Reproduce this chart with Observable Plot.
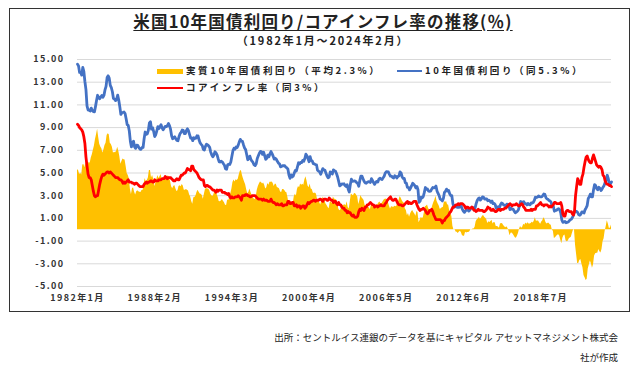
<!DOCTYPE html>
<html><head><meta charset="utf-8">
<script src="https://cdn.jsdelivr.net/npm/d3@7"></script>
<script src="https://cdn.jsdelivr.net/npm/@observablehq/plot@0.6"></script>
<style>
body{margin:0;background:#fff;}
#wrap{position:relative;width:640px;height:371px;overflow:hidden;font-family:"Noto Sans CJK JP",sans-serif;color:#222;}
#chart{position:absolute;left:0;top:0;}
#chart svg text{letter-spacing:1.4px;}
#frame{position:absolute;left:9px;top:8px;width:621px;height:304px;border:1.5px solid #333;box-sizing:border-box;pointer-events:none;}
.t{position:absolute;white-space:nowrap;line-height:1;}
#title{left:0;width:646px;text-align:center;top:13px;font-size:16.5px;font-weight:700;text-decoration:underline;text-underline-offset:2px;letter-spacing:1.2px;}
#sub{left:0;width:646px;text-align:center;top:35px;font-size:11px;font-weight:700;letter-spacing:1.8px;}
.lg{font-size:9.5px;font-weight:700;letter-spacing:2.6px;}
.sw{position:absolute;}
.src{font-size:9.5px;right:22px;}
</style></head>
<body>
<div id="wrap">
<div id="chart"></div>
<div id="frame"></div>
<div class="t" id="title"></div>
<div class="t" id="sub"></div>
<div class="sw" style="left:157px;top:69px;width:26px;height:5px;background:#FFC000"></div>
<div class="t lg" id="lg1" style="left:186px;top:66px"></div>
<div class="sw" style="left:397px;top:70px;width:25px;height:2px;background:#4472C4"></div>
<div class="t lg" id="lg2" style="left:425px;top:66px"></div>
<div class="sw" style="left:157px;top:87px;width:26px;height:2px;background:#FF0000"></div>
<div class="t lg" id="lg3" style="left:186px;top:83px"></div>
<div class="t src" id="src1" style="top:333px"></div>
<div class="t src" id="src2" style="top:353px"></div>
</div>
<script>
const titleText = "米国10年国債利回り/コアインフレ率の推移(％)";
const subtitleText = "（1982年1月～2024年2月）";
const legendLabels = ["実質10年国債利回り（平均2.3%）", "10年国債利回り（同5.3%）", "コアインフレ率（同3%）"];
const sourceLines = ["出所：セントルイス連銀のデータを基にキャピタル アセットマネジメント株式会", "社が作成"];
const xTickIdx = [0, 73, 146, 219, 292, 365, 438];
const xTickLabels = ["1982年1月","1988年2月","1994年3月","2000年4月","2006年5月","2012年6月","2018年7月"];
const yTicks = [-5,-3,-1,1,3,5,7,9,11,13,15];

// 10年国債利回り (monthly, 1982-01 .. 2024-02)
const y10 = [
14.59,14.43,13.86,13.87,13.62,14.30,13.95,13.06,12.34,10.91,10.55,10.54,
10.46,10.72,10.51,10.40,10.38,10.85,11.38,11.85,11.65,11.54,11.69,11.83,
11.67,11.84,12.32,12.63,13.41,13.56,13.36,12.72,12.52,12.16,11.57,11.50,
11.38,11.51,11.86,11.43,10.85,10.16,10.31,10.33,10.37,10.24,9.78,9.26,
9.19,8.70,7.78,7.30,7.71,7.80,7.30,7.17,7.45,7.43,7.25,7.11,
7.08,7.25,7.25,8.02,8.61,8.40,8.45,8.76,9.42,9.52,8.86,8.99,
8.67,8.21,8.37,8.72,9.09,8.92,9.06,9.26,8.98,8.80,8.96,9.11,
9.09,9.17,9.36,9.18,8.86,8.28,8.02,8.11,8.19,8.01,7.87,7.84,
8.21,8.47,8.59,8.79,8.76,8.48,8.47,8.75,8.89,8.72,8.39,8.08,
8.09,7.85,8.11,8.04,8.07,8.28,8.27,7.90,7.65,7.53,7.42,7.09,
7.03,7.34,7.54,7.48,7.39,7.26,6.84,6.59,6.42,6.59,6.87,6.77,
6.60,6.26,5.98,5.97,6.04,5.96,5.81,5.68,5.36,5.33,5.72,5.77,
5.75,5.97,6.48,6.97,7.18,7.10,7.30,7.24,7.46,7.74,7.96,7.81,
7.78,7.47,7.20,7.06,6.63,6.17,6.28,6.49,6.20,6.04,5.93,5.71,
5.65,5.81,6.27,6.51,6.74,6.91,6.87,6.64,6.83,6.53,6.20,6.30,
6.58,6.42,6.69,6.89,6.71,6.49,6.22,6.30,6.21,6.03,5.88,5.81,
5.54,5.57,5.65,5.64,5.65,5.50,5.46,5.34,4.81,4.53,4.83,4.65,
4.72,5.00,5.23,5.18,5.54,5.90,5.79,5.94,5.92,6.11,6.03,6.28,
6.66,6.52,6.26,5.99,6.44,6.10,6.05,5.83,5.80,5.74,5.72,5.24,
5.16,5.10,4.89,5.14,5.39,5.28,5.24,4.97,4.73,4.57,4.65,5.09,
5.04,4.91,5.28,5.21,5.16,4.93,4.65,4.26,3.87,3.94,4.05,4.03,
4.05,3.90,3.81,3.96,3.57,3.33,3.98,4.45,4.27,4.29,4.30,4.27,
4.15,4.08,3.83,4.35,4.72,4.73,4.50,4.28,4.13,4.10,4.19,4.23,
4.22,4.17,4.50,4.34,4.14,4.00,4.18,4.26,4.20,4.46,4.54,4.47,
4.42,4.57,4.72,4.99,5.11,5.11,5.09,4.88,4.72,4.73,4.60,4.56,
4.76,4.72,4.56,4.69,4.75,5.10,5.00,4.67,4.52,4.53,4.15,4.10,
3.74,3.74,3.51,3.68,3.88,4.10,4.01,3.89,3.69,3.81,3.53,2.42,
2.52,2.87,2.82,2.93,3.29,3.72,3.56,3.59,3.40,3.39,3.40,3.59,
3.73,3.69,3.73,3.85,3.42,3.20,3.01,2.70,2.65,2.54,2.76,3.29,
3.39,3.58,3.41,3.46,3.17,3.00,3.00,2.30,1.98,2.15,2.01,1.98,
1.97,1.97,2.17,2.05,1.80,1.62,1.53,1.68,1.72,1.75,1.65,1.72,
1.91,1.98,1.96,1.76,1.93,2.30,2.58,2.74,2.81,2.62,2.72,2.90,
2.86,2.71,2.72,2.71,2.56,2.60,2.54,2.42,2.53,2.30,2.33,2.21,
1.88,1.98,2.04,1.94,2.20,2.36,2.32,2.17,2.17,2.07,2.26,2.24,
2.09,1.78,1.89,1.81,1.81,1.64,1.50,1.56,1.63,1.76,2.14,2.49,
2.43,2.42,2.48,2.30,2.30,2.19,2.32,2.21,2.20,2.36,2.35,2.40,
2.58,2.86,2.84,2.87,2.98,2.91,2.89,2.89,3.00,3.15,3.12,2.83,
2.71,2.68,2.57,2.53,2.40,2.07,2.06,1.63,1.70,1.71,1.81,1.86,
1.76,1.50,0.87,0.66,0.67,0.73,0.62,0.65,0.68,0.79,0.87,0.93,
1.08,1.26,1.61,1.64,1.62,1.52,1.32,1.28,1.37,1.58,1.56,1.47,
1.76,1.93,2.13,2.75,2.90,3.14,2.90,2.90,3.52,3.98,3.89,3.62,
3.53,3.75,3.66,3.46,3.57,3.75,3.90,4.17,4.38,4.80,4.50,4.02,
4.06,4.21
];

// コアインフレ率 (monthly, 1982-01 .. 2024-02)
const core = [
9.3,9.2,9.0,8.9,8.8,8.6,8.2,7.6,6.4,5.6,4.9,4.6,
4.6,4.4,3.9,3.4,3.0,2.9,3.0,3.0,3.5,4.0,4.4,4.7,
4.9,4.8,4.9,5.0,5.1,5.1,5.0,5.1,5.0,4.9,4.8,4.7,
4.6,4.6,4.6,4.5,4.4,4.4,4.3,4.1,4.2,4.1,4.2,4.3,
4.4,4.2,4.2,4.2,4.1,4.1,4.0,4.1,4.1,4.0,3.9,3.8,
3.8,3.8,3.8,4.0,4.1,4.2,4.1,4.2,4.2,4.3,4.3,4.2,
4.2,4.4,4.3,4.3,4.3,4.4,4.4,4.4,4.5,4.5,4.5,4.7,
4.6,4.5,4.6,4.6,4.6,4.5,4.4,4.3,4.3,4.4,4.5,4.4,
4.4,4.6,4.8,4.8,4.9,5.0,5.0,5.2,5.4,5.3,5.3,5.2,
5.6,5.6,5.3,5.2,5.1,5.0,4.8,4.6,4.5,4.4,4.4,4.4,
3.9,3.8,3.9,3.9,3.8,3.8,3.7,3.6,3.5,3.5,3.4,3.3,
3.5,3.4,3.5,3.5,3.5,3.3,3.3,3.3,3.2,3.2,3.1,3.2,
2.9,2.8,2.9,2.8,2.8,2.9,2.9,2.9,3.0,2.9,2.8,2.6,
3.0,3.0,3.0,3.1,3.1,3.0,3.0,2.9,2.9,3.0,3.0,3.0,
3.0,2.9,2.8,2.7,2.7,2.7,2.7,2.6,2.7,2.6,2.6,2.6,
2.5,2.5,2.5,2.7,2.5,2.4,2.4,2.3,2.2,2.3,2.2,2.2,
2.2,2.3,2.1,2.1,2.2,2.2,2.2,2.5,2.5,2.3,2.3,2.4,
2.4,2.1,2.1,2.2,2.0,2.1,2.1,1.9,2.0,2.1,2.1,1.9,
2.0,2.2,2.4,2.3,2.4,2.5,2.5,2.6,2.6,2.5,2.6,2.6,
2.6,2.7,2.7,2.6,2.5,2.7,2.7,2.7,2.6,2.6,2.8,2.7,
2.6,2.6,2.4,2.5,2.5,2.3,2.2,2.4,2.2,2.2,2.0,1.9,
1.9,1.7,1.7,1.5,1.6,1.5,1.5,1.3,1.2,1.3,1.1,1.1,
1.1,1.2,1.6,1.8,1.7,1.9,1.8,1.7,2.0,2.0,2.2,2.2,
2.3,2.4,2.3,2.2,2.2,2.0,2.1,2.1,2.0,2.1,2.1,2.2,
2.1,2.1,2.1,2.3,2.4,2.6,2.7,2.8,2.9,2.7,2.6,2.6,
2.7,2.7,2.5,2.3,2.2,2.2,2.2,2.1,2.1,2.2,2.3,2.4,
2.5,2.3,2.4,2.3,2.3,2.4,2.5,2.5,2.5,2.2,2.0,1.8,
1.7,1.8,1.8,1.9,1.8,1.7,1.5,1.4,1.5,1.7,1.7,1.8,
1.6,1.3,1.1,0.9,0.9,0.9,0.9,0.9,0.8,0.6,0.8,0.8,
1.0,1.1,1.2,1.3,1.5,1.6,1.8,2.0,2.0,2.1,2.2,2.2,
2.3,2.2,2.3,2.3,2.3,2.2,2.1,1.9,2.0,2.0,1.9,1.9,
1.9,2.0,1.9,1.7,1.7,1.6,1.7,1.8,1.7,1.7,1.7,1.7,
1.6,1.6,1.7,1.8,2.0,1.9,1.9,1.7,1.7,1.8,1.7,1.6,
1.6,1.7,1.8,1.8,1.7,1.8,1.8,1.8,1.9,1.9,2.0,2.1,
2.2,2.3,2.2,2.1,2.2,2.2,2.2,2.3,2.2,2.1,2.1,2.2,
2.3,2.2,2.0,1.9,1.7,1.7,1.7,1.7,1.7,1.8,1.7,1.8,
1.8,1.8,2.1,2.1,2.2,2.3,2.4,2.2,2.2,2.1,2.2,2.2,
2.2,2.1,2.0,2.1,2.0,2.1,2.2,2.4,2.4,2.3,2.3,2.3,
2.3,2.4,2.1,1.4,1.2,1.2,1.6,1.7,1.7,1.6,1.6,1.6,
1.4,1.3,1.6,3.0,3.8,4.5,4.3,4.0,4.0,4.6,4.9,5.5,
6.0,6.4,6.5,6.2,6.0,5.9,5.9,6.3,6.6,6.3,6.0,5.7,
5.6,5.5,5.6,5.5,5.3,4.8,4.7,4.3,4.1,4.0,4.0,3.9,
3.9,3.8
];

// 実質10年国債利回り (monthly, 1982-01 .. 2024-02)
const real = [
5.29,5.23,4.86,4.97,4.82,5.70,5.75,5.46,5.94,5.31,5.65,5.94,
5.86,6.32,6.61,7.00,7.38,7.95,8.38,8.85,8.15,7.54,7.29,7.13,
6.77,7.04,7.42,7.63,8.31,8.46,8.36,7.62,7.52,7.26,6.77,6.80,
6.78,6.91,7.26,6.93,6.45,5.76,6.01,6.23,6.17,6.14,5.58,4.96,
4.79,4.50,3.58,3.10,3.61,3.70,3.30,3.07,3.35,3.43,3.35,3.31,
3.28,3.45,3.45,4.02,4.51,4.20,4.35,4.56,5.22,5.22,4.56,4.79,
4.47,3.81,4.07,4.42,4.79,4.52,4.66,4.86,4.48,4.30,4.46,4.41,
4.49,4.67,4.76,4.58,4.26,3.78,3.62,3.81,3.89,3.61,3.37,3.44,
3.81,3.87,3.79,3.99,3.86,3.48,3.47,3.55,3.49,3.42,3.09,2.88,
2.49,2.25,2.81,2.84,2.97,3.28,3.47,3.30,3.15,3.13,3.02,2.69,
3.13,3.54,3.64,3.58,3.59,3.46,3.14,2.99,2.92,3.09,3.47,3.47,
3.10,2.86,2.48,2.47,2.54,2.66,2.51,2.38,2.16,2.13,2.62,2.57,
2.85,3.17,3.58,4.17,4.38,4.20,4.40,4.34,4.46,4.84,5.16,5.21,
4.78,4.47,4.20,3.96,3.53,3.17,3.28,3.59,3.30,3.04,2.93,2.71,
2.65,2.91,3.47,3.81,4.04,4.21,4.17,4.04,4.13,3.93,3.60,3.70,
4.08,3.92,4.19,4.19,4.21,4.09,3.82,4.00,4.01,3.73,3.68,3.61,
3.34,3.27,3.55,3.54,3.45,3.30,3.26,2.84,2.31,2.23,2.53,2.25,
2.32,2.90,3.13,2.98,3.54,3.80,3.69,4.04,3.92,4.01,3.93,4.38,
4.66,4.32,3.86,3.69,4.04,3.60,3.55,3.23,3.20,3.24,3.12,2.64,
2.56,2.40,2.19,2.54,2.89,2.58,2.54,2.27,2.13,1.97,1.85,2.39,
2.44,2.31,2.88,2.71,2.66,2.63,2.45,1.86,1.67,1.74,2.05,2.13,
2.15,2.20,2.11,2.46,1.97,1.83,2.48,3.15,3.07,2.99,3.20,3.17,
3.05,2.88,2.23,2.55,3.02,2.83,2.70,2.58,2.13,2.10,1.99,2.03,
1.92,1.77,2.20,2.14,1.94,2.00,2.08,2.16,2.20,2.36,2.44,2.27,
2.32,2.47,2.62,2.69,2.71,2.51,2.39,2.08,1.82,2.03,2.00,1.96,
2.06,2.02,2.06,2.39,2.55,2.90,2.80,2.57,2.42,2.33,1.85,1.70,
1.24,1.44,1.11,1.38,1.58,1.70,1.51,1.39,1.19,1.61,1.53,0.62,
0.82,1.07,1.02,1.03,1.49,2.02,2.06,2.19,1.90,1.69,1.70,1.79,
2.13,2.39,2.63,2.95,2.52,2.30,2.11,1.80,1.85,1.94,1.96,2.49,
2.39,2.48,2.21,2.16,1.67,1.40,1.20,0.30,-0.02,0.05,-0.19,-0.22,
-0.33,-0.23,-0.13,-0.25,-0.50,-0.58,-0.57,-0.22,-0.28,-0.25,-0.25,-0.18,
0.01,-0.02,0.06,0.06,0.23,0.70,0.88,0.94,1.11,0.92,1.02,1.20,
1.26,1.11,1.02,0.91,0.56,0.70,0.64,0.72,0.83,0.50,0.63,0.61,
0.28,0.28,0.24,0.14,0.50,0.56,0.52,0.37,0.27,0.17,0.26,0.14,
-0.11,-0.52,-0.31,-0.29,-0.39,-0.56,-0.70,-0.74,-0.57,-0.34,0.04,0.29,
0.13,0.22,0.48,0.40,0.60,0.49,0.62,0.51,0.50,0.56,0.65,0.60,
0.78,1.06,0.74,0.77,0.78,0.61,0.49,0.69,0.80,1.05,0.92,0.63,
0.51,0.58,0.57,0.43,0.40,-0.03,-0.14,-0.77,-0.70,-0.59,-0.49,-0.44,
-0.54,-0.90,-1.23,-0.74,-0.53,-0.47,-0.98,-1.05,-1.02,-0.81,-0.73,-0.67,
-0.32,-0.04,0.01,-1.36,-2.18,-2.98,-2.98,-2.72,-2.63,-3.02,-3.34,-4.03,
-4.24,-4.47,-4.37,-3.45,-3.10,-2.76,-3.00,-3.40,-3.08,-2.32,-2.11,-2.08,
-2.07,-1.75,-1.94,-2.04,-1.73,-1.05,-0.80,-0.13,0.28,0.80,0.50,0.12,
0.16,0.41
];

const rows = y10.map((v, i) => ({i, y10: v, core: core[i], real: real[i]}));

document.getElementById("title").textContent = titleText;
document.getElementById("sub").textContent = subtitleText;
document.getElementById("lg1").textContent = legendLabels[0];
document.getElementById("lg2").textContent = legendLabels[1];
document.getElementById("lg3").textContent = legendLabels[2];
document.getElementById("src1").textContent = sourceLines[0];
document.getElementById("src2").textContent = sourceLines[1];

const chart = Plot.plot({
  width: 640,
  height: 371,
  marginLeft: 77,
  marginRight: 29,
  marginTop: 59,
  marginBottom: 85,
  style: {fontFamily: '"Noto Sans CJK JP", sans-serif', fontSize: "9px", fontWeight: 700, color: "#333", background: "transparent"},
  x: {type: "linear", domain: [0, y10.length - 1], label: null},
  y: {domain: [-5, 15], label: null},
  marks: [
    Plot.gridY(yTicks, {stroke: "#d9d9d9", strokeOpacity: 1, strokeWidth: 1}),
    Plot.areaY(rows, {x: "i", y: "real", fill: "#FFC000"}),
    Plot.lineY(rows, {x: "i", y: "y10", stroke: "#4472C4", strokeWidth: 2.8}),
    Plot.lineY(rows, {x: "i", y: "core", stroke: "#FF0000", strokeWidth: 2.8}),
    Plot.axisY(yTicks, {tickSize: 0, tickPadding: 13, tickFormat: d => d.toFixed(2), fill: "#333", label: null}),
    Plot.axisX(xTickIdx, {tickSize: 0, tickPadding: 8, tickFormat: d => xTickLabels[xTickIdx.indexOf(d)], fill: "#333", label: null})
  ]
});
document.getElementById("chart").appendChild(chart);
</script>
</body></html>
